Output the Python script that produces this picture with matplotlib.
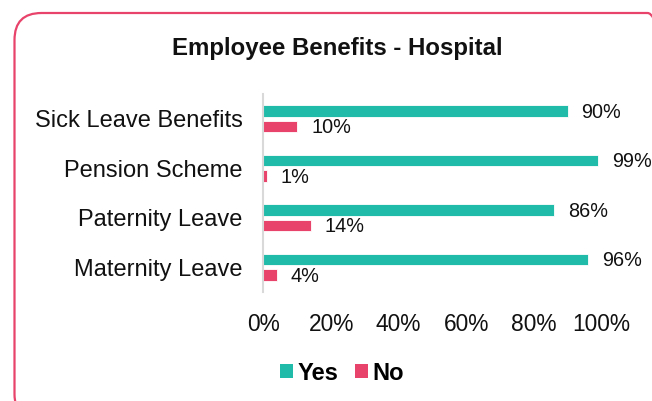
import matplotlib.pyplot as plt
import numpy as np
from matplotlib.patches import FancyBboxPatch, Patch

plt.rcParams['font.family'] = ['Liberation Sans', 'DejaVu Sans']

# survey results (percent of respondents)
benefits = ["Sick Leave Benefits", "Pension Scheme", "Paternity Leave", "Maternity Leave"]
yes_pct = [90, 99, 86, 96]
no_pct = [10, 1, 14, 4]
ticks = [0, 20, 40, 60, 80, 100]

teal = "#21BBAA"
pink = "#E8436A"

fig = plt.figure(figsize=(6.52, 4.01), dpi=100)
ax = fig.add_axes([0.4041, 0.2718, 0.5184, 0.4938])

y = np.arange(len(benefits))
h = 0.235
off = 0.157
bars_yes = ax.barh(y - off, yes_pct, height=h, color=teal, edgecolor="white", linewidth=0.6)
bars_no = ax.barh(y + off, no_pct, height=h, color=pink, edgecolor="white", linewidth=0.6)

for bars, vals in ((bars_yes, yes_pct), (bars_no, no_pct)):
    for b, v in zip(bars, vals):
        ax.annotate(f"{v}%", (v, b.get_y() + b.get_height() / 2),
                    xytext=(10, -1), textcoords="offset points",
                    ha="left", va="center", fontsize=14.3, color="#111111",
                    annotation_clip=False)

ax.set_xlim(0, 100)
ax.set_ylim(len(benefits) - 0.5, -0.5)
ax.set_yticks(y)
ax.set_yticklabels(benefits, fontsize=17)
ax.set_xticks(ticks)
ax.set_xticklabels([f"{t}%" for t in ticks], fontsize=16.4)
ax.tick_params(axis="both", length=0, colors="#111111")
ax.tick_params(axis="x", pad=15)
ax.tick_params(axis="y", pad=15)
for s in ("top", "right", "bottom"):
    ax.spines[s].set_visible(False)
ax.spines["left"].set_color("#D9D9D9")
ax.spines["left"].set_linewidth(1.5)

fig.text(0.5176, 1 - 48 / 401, "Employee Benefits - Hospital", ha="center", va="center",
         fontsize=17.3, fontweight="bold", color="#111111")

handles = [Patch(facecolor=teal, label="Yes"), Patch(facecolor=pink, label="No")]
leg = fig.legend(handles=handles, loc="center", bbox_to_anchor=(342 / 652, 1 - 373 / 401),
                 ncol=2, frameon=False, handlelength=0.55, handleheight=0.55,
                 handletextpad=0.2, columnspacing=0.7, prop={"size": 17, "weight": "bold"})

# caption line above the chart box, mostly off the top edge
fig.text(34 / 652, 1 + 6 / 401, "Figure 14: Employee Benefits - Hospital", ha="left",
         va="baseline", fontsize=14, color="#111111")

# rounded frame around the chart
frame = FancyBboxPatch((0.145, -0.2), 6.6, 4.08, boxstyle="round,pad=0,rounding_size=0.27",
                       transform=fig.dpi_scale_trans, facecolor="none", edgecolor=pink,
                       linewidth=1.6, clip_on=False)
fig.add_artist(frame)

fig.savefig("out.png", dpi=100)
